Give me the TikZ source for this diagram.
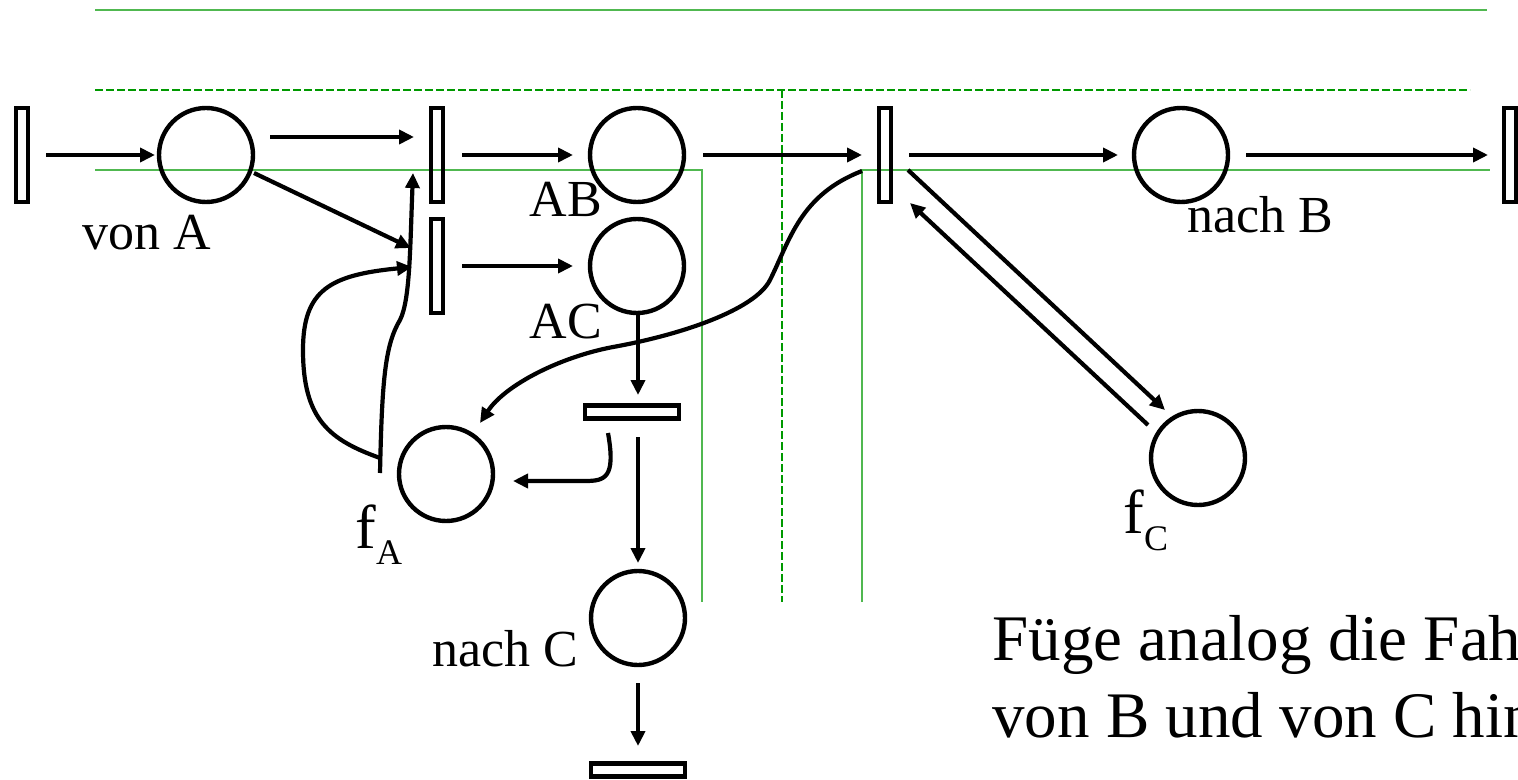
\documentclass[tikz,border=0pt]{standalone}
\usepackage{fontspec}
\setmainfont{Liberation Serif}
\usetikzlibrary{arrows.meta}
\definecolor{gsolid}{RGB}{80,184,80}
\definecolor{gdash}{RGB}{0,153,0}
\begin{document}
\begin{tikzpicture}[x=0.5pt,y=-0.5pt,
 place/.style={circle,draw,line width=2.2pt,minimum size=47pt,inner sep=0pt},
 vtrans/.style={rectangle,draw,line width=2.2pt,minimum width=6pt,minimum height=47pt,inner sep=0pt},
 htrans/.style={rectangle,draw,line width=2.2pt,minimum width=47pt,minimum height=6.5pt,inner sep=0pt},
 arr/.style={line width=2.1pt,-{Triangle[length=7.5pt,width=7pt]}},
 lab/.style={inner sep=0pt,anchor=base,font=\fontsize{26}{30}\selectfont},
 flab/.style={inner sep=0pt,anchor=base west,font=\fontsize{31}{31}\selectfont},
 big/.style={inner sep=0pt,anchor=base west,font=\fontsize{32.5}{38}\selectfont},
 gline/.style={gsolid,line width=1.2pt},
 dline/.style={gdash,line width=1.2pt,dash pattern=on 4pt off 1.5pt}]
\useasboundingbox (0,0) rectangle (1518,780);
\clip (0,0) rectangle (1518,780);
% green guide lines
\draw[gline] (95,10) -- (1487,10);
\draw[dline] (95,90) -- (1470,90);
\draw[dline] (782,90) -- (782,602);
\draw[gline] (95,170) -- (702,170) -- (702,602);
\draw[gline] (862,602) -- (862,170) -- (1490,170);
% nodes
\node[vtrans] (t0) at (22,155) {};
\node[place] (vonA) at (206,155) {};
\node[vtrans] (t1) at (437,155) {};
\node[vtrans] (t2) at (437,266) {};
\node[place] (ab) at (637,155) {};
\node[place] (ac) at (637,266) {};
\node[vtrans] (t3) at (885,155) {};
\node[place] (nb) at (1181,155) {};
\node[vtrans] (t4) at (1510,155) {};
\node[htrans] (t5) at (632,412) {};
\node[place] (fa) at (446,474) {};
\node[place] (fc) at (1198,458) {};
\node[place] (nc) at (638,618) {};
\node[htrans] (t6) at (638,770) {};
% labels
\node[lab] (lvonA) at (147,250) {von A};
\node[lab] (lab) at (566,217) {AB};
\node[lab] (lac) at (566,338) {AC};
\node[lab] (lnb) at (1260,233) {nach B};
\node[lab] (lnc) at (505,666) {nach C};
\node[flab] (lfa) at (355,548) {f\raisebox{-8pt}{\fontsize{18}{18}\selectfont A}};
\node[flab] (lfc) at (1123,533) {f\raisebox{-8.5pt}{\fontsize{18}{18}\selectfont C}};
\node[big] (txt1) at (992,660) {Füge analog die Fahr};
\node[big] (txt2) at (992,737) {von B und von C hin};
% arrows
\draw[arr] ([shift={(24,0)}]t0.center) -- ([shift={(-51,0)}]vonA.center);
\draw[arr] ([shift={(64,-18)}]vonA.center) -- ([shift={(-23,-18)}]t1.center);
\draw[arr] ([shift={(48,18)}]vonA.center) -- ([shift={(-26,-18)}]t2.center);
\draw[arr] ([shift={(25,0)}]t1.center) -- ([shift={(-64,0)}]ab.center);
\draw[arr] ([shift={(25,0)}]t2.center) -- ([shift={(-64,0)}]ac.center);
\draw[arr] ([shift={(66,0)}]ab.center) -- ([shift={(-23,0)}]t3.center);
\draw[arr] ([shift={(24,0)}]t3.center) -- ([shift={(-63,0)}]nb.center);
\draw[arr] ([shift={(65,0)}]nb.center) -- ([shift={(-22,0)}]t4.center);
\draw[arr] ([shift={(23,15)}]t3.center) -- ([shift={(-33,-48)}]fc.center);
\draw[arr] ([shift={(-50,-33)}]fc.center) -- ([shift={(25,48)}]t3.center);
\draw[arr] ([shift={(1,49)}]ac.center) -- ([shift={(6,-17)}]t5.center);
\draw[arr] ([shift={(6,25)}]t5.center) -- ([shift={(0,-55)}]nc.center);
\draw[arr] ([shift={(0,65)}]nc.center) -- ([shift={(0,-24)}]t6.center);
\draw[arr] ([shift={(-24,21)}]t5.center) .. controls (616,478) and (605,481) .. (585,481) -- ([shift={(67,7)}]fa.center);
\draw[arr] ([shift={(-23,16)}]t3.center) .. controls (800,195) and (790,240) .. (770,280)
  .. controls (755,310) and (680,335) .. (613,347)
  .. controls (560,357) and (505,385) .. ([shift={(34,-51)}]fa.center);
\draw[arr] ([shift={(-66,-1)}]fa.center) .. controls (382,380) and (385,345) .. (400,320)
  .. controls (410,300) and (410,250) .. ([shift={(-24,18)}]t1.center);
\draw[arr] ([shift={(-66,-16)}]fa.center) .. controls (330,440) and (303,420) .. (303,350)
  .. controls (303,290) and (330,275) .. ([shift={(-25,1)}]t2.center);
\end{tikzpicture}
\end{document}
